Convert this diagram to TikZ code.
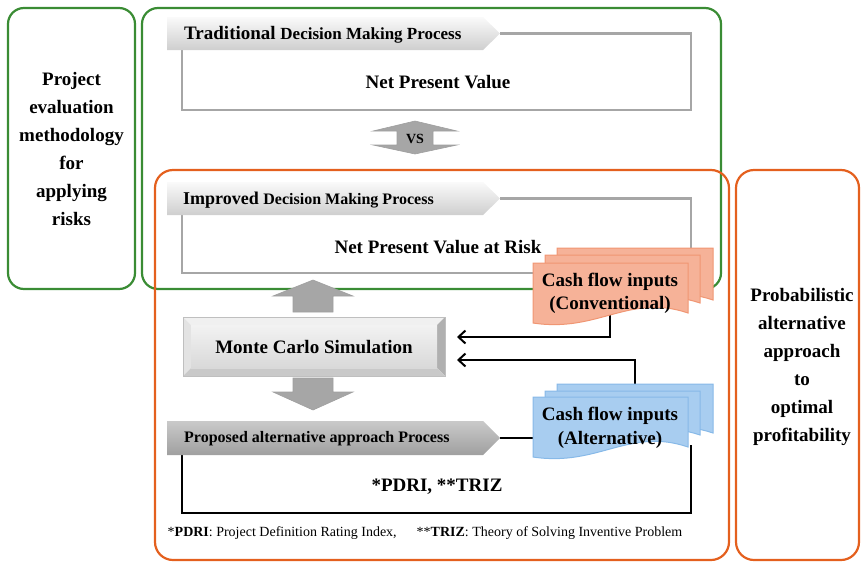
\documentclass[tikz,border=0pt]{standalone}
\usepackage{fontspec}
\setmainfont{Liberation Serif}
\usetikzlibrary{arrows.meta}
\definecolor{gline}{RGB}{58,140,52}
\definecolor{oline}{RGB}{228,96,30}
\definecolor{gframe}{RGB}{166,166,166}
\definecolor{ofill}{RGB}{246,178,152}
\definecolor{oedge}{RGB}{240,150,115}
\definecolor{bfill}{RGB}{168,205,240}
\definecolor{bedge}{RGB}{135,185,232}
\definecolor{arrgray}{RGB}{166,166,166}
\newcommand{\cfdoc}[6]{%
  \filldraw[fill=#5,draw=#6,line width=1pt]
    (#1,#2+#4) -- (#1,#2) -- (#1+#3,#2) -- (#1+#3,#2+#4-10)
    .. controls (#1+0.62*#3,#2+#4-30) and (#1+0.42*#3,#2+#4+10) .. (#1,#2+#4) -- cycle;}
\tikzset{
  greenbox/.style={draw=gline,line width=2.2pt,rounded corners=16pt},
  orangebox/.style={draw=oline,line width=2.2pt,rounded corners=18pt},
  grayframe/.style={draw=gframe,line width=2.4pt},
  blackframe/.style={draw=black,line width=2.2pt},
  bigtext/.style={font=\bfseries\fontsize{19}{28}\selectfont,align=center,inner sep=0pt},
  doctext/.style={font=\bfseries\fontsize{19}{23.5}\selectfont,align=center,inner sep=0pt},
  bannertext/.style={anchor=west,inner sep=0pt},
  fatarrow/.style={fill=arrgray,draw=gray!75,line width=0.6pt},
  conn/.style={draw=black,line width=2pt,-{Straight Barb[length=7pt,width=13pt,line width=2pt]}},
}
\begin{document}
\begin{tikzpicture}[x=1pt,y=-1pt]
\useasboundingbox (0,0) rectangle (861,562);
% outer boxes
\draw[greenbox] (8,8) rectangle (135,289);
\node[bigtext] (leftlbl) at (71.5,149) {Project\\evaluation\\methodology\\for\\applying\\risks};
\draw[greenbox] (142,8) rectangle (721,289);
\draw[orangebox] (155,170) rectangle (729,560);
\draw[orangebox] (736,170) rectangle (859,560);
\node[bigtext] (rightlbl) at (802,367) {Probabilistic\\alternative\\approach\\to\\optimal\\profitability};
% traditional
\draw[grayframe] (182,50) -- (182,110) -- (691,110) -- (691,33.5) -- (500,33.5);
\shade[top color=gray!4,bottom color=gray!38] (167,17) -- (483,17) -- (500,33.5) -- (483,50) -- (167,50) -- cycle;
\node[bannertext] (trad) at (184,35) {\bfseries\fontsize{19}{19}\selectfont Traditional {\fontsize{17}{17}\selectfont Decision Making Process}};
\node[bigtext] (npv) at (438,82) {Net Present Value};
% vs arrow
\path[fatarrow] (373,131) -- (415,121) -- (457,131) -- (433,131) -- (433,145) -- (457,145)
  -- (415,154) -- (373,145) -- (397,145) -- (397,131) -- cycle;
\node[font=\bfseries\fontsize{14}{14}\selectfont,inner sep=0pt] (vs) at (415,139) {VS};
% improved
\draw[grayframe] (182,215) -- (182,273) -- (691,273) -- (691,198.5) -- (500,198.5);
\shade[top color=gray!4,bottom color=gray!38] (167,182) -- (483,182) -- (500,198.5) -- (483,215) -- (167,215) -- cycle;
\node[bannertext] (impr) at (183,200) {\bfseries\fontsize{18}{18}\selectfont Improved {\fontsize{16}{16}\selectfont Decision Making Process}};
\node[bigtext] (npvr) at (438,247) {Net Present Value at Risk};
% up arrow
\path[fatarrow] (293,312) -- (293,296) -- (273,296) -- (313,280) -- (353,296) -- (333,296) -- (333,312) -- cycle;
% monte carlo bevel
\fill[gray!12] (183,317) -- (445,317) -- (437,325) -- (191,325) -- cycle;
\fill[gray!22] (183,317) -- (191,325) -- (191,368) -- (183,376) -- cycle;
\fill[gray!62] (445,317) -- (445,376) -- (437,368) -- (437,325) -- cycle;
\fill[gray!42] (183,376) -- (445,376) -- (437,368) -- (191,368) -- cycle;
\shade[top color=gray!10,bottom color=gray!30] (191,325) rectangle (437,368);
\draw[gray!50,line width=0.5pt] (183,317) rectangle (445,376);
\node[bigtext] (mc) at (314,347) {Monte Carlo Simulation};
% down arrow
\path[fatarrow] (293,378) -- (333,378) -- (333,392) -- (353,392) -- (313,410) -- (273,392) -- (293,392) -- cycle;
% proposed
\draw[blackframe] (182,455) -- (182,513) -- (691,513) -- (691,445);
\coordinate (proptip) at (500,438);
\coordinate (altleft) at (540,438);
\draw[blackframe] (proptip) -- (altleft);
\shade[top color=gray!42,bottom color=gray!75] (167,421) -- (483,421) -- (500,438) -- (483,455) -- (167,455) -- cycle;
\node[bannertext] (prop) at (184,439) {\bfseries\fontsize{16}{16}\selectfont Proposed alternative approach Process};
\node[bigtext] (pdri) at (437,487) {*PDRI, **TRIZ};
\node[inner sep=0pt,font=\fontsize{14}{14}\selectfont] (foot) at (425,533) {*\textbf{PDRI}: Project Definition Rating Index,\hspace{20pt}**\textbf{TRIZ}: Theory of Solving Inventive Problem};
% connectors
\coordinate (convout) at (610,312);
\coordinate (mcin1) at (457,337);
\coordinate (altout) at (635,395);
\coordinate (mcin2) at (457,360);
\draw[conn] (convout) |- (mcin1);
\draw[conn] (altout) |- (mcin2);
% orange docs
\cfdoc{557}{248}{156}{62}{ofill}{oedge}
\cfdoc{545}{255}{155}{58}{ofill}{oedge}
\cfdoc{533}{263}{155}{60}{ofill}{oedge}
\node[doctext] (conv) at (610,293.5) {Cash flow inputs\\(Conventional)};
% blue docs
\cfdoc{557}{384}{156}{59}{bfill}{bedge}
\cfdoc{545}{391}{155}{54}{bfill}{bedge}
\cfdoc{533}{397}{155}{60}{bfill}{bedge}
\node[doctext] (alt) at (610,428) {Cash flow inputs\\(Alternative)};
\end{tikzpicture}
\end{document}
